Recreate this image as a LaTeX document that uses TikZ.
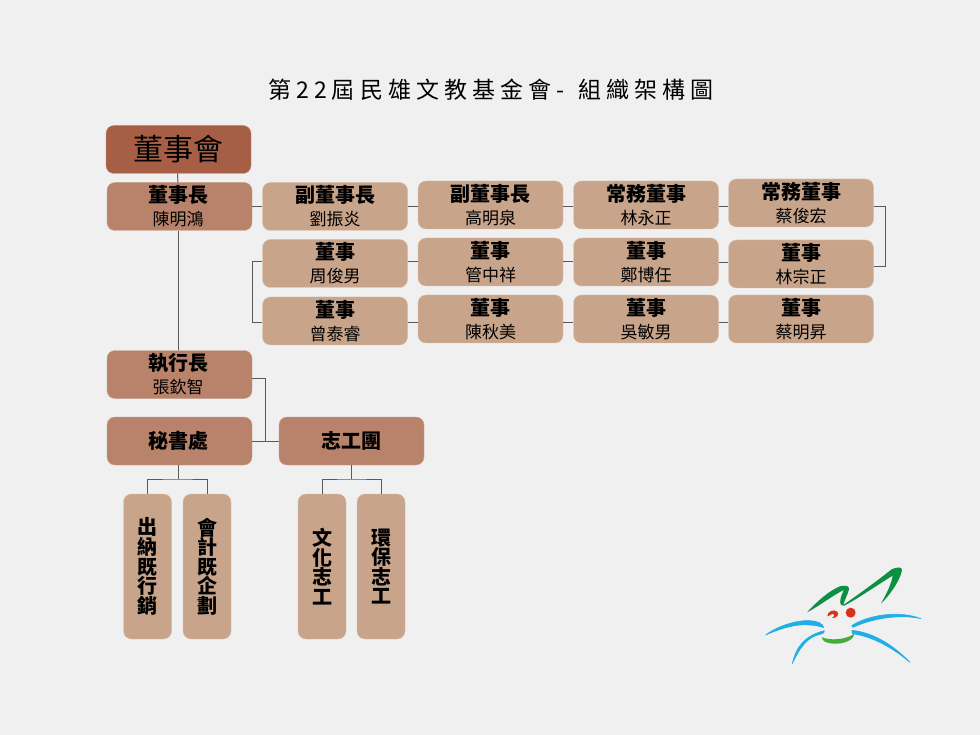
\documentclass[tikz,border=0pt]{standalone}
\usepackage{fontspec}
\setmainfont{Noto Sans CJK TC}
\usetikzlibrary{calc}
\definecolor{bgc}{HTML}{F0F0F0}
\definecolor{darkb}{HTML}{A65F45}
\definecolor{midb}{HTML}{B9826A}
\definecolor{lightb}{HTML}{C8A48B}
\definecolor{linec}{HTML}{5A5A5A}
\definecolor{lgreen}{HTML}{0B9044}
\definecolor{lgreenb}{HTML}{43AC3B}
\definecolor{lblue}{HTML}{1FAEE6}
\definecolor{lred}{HTML}{D8321F}
\newcommand{\rolename}[2]{\fontsize{20}{22.5}\selectfont{\bfseries #1}\\[5.5pt]{\fontsize{17}{22.5}\selectfont #2}}
\newcommand{\rolenameL}[2]{\fontsize{20}{22.5}\selectfont{\bfseries #1}\kern3pt\\[5.5pt]{\fontsize{17}{22.5}\selectfont #2}\kern3pt}
\tikzset{
  x=1pt,y=-1pt,
  box/.style={rounded corners=8pt,inner sep=0pt,text=black,align=center,minimum width=145pt,minimum height=48pt},
  topbox/.style={box,fill=darkb,draw=darkb!70!white,line width=.4pt},
  midbox/.style={box,fill=midb,draw=midb!75!white,line width=.4pt},
  lightbox/.style={box,fill=lightb,draw=lightb!70!white,line width=.4pt},
  tallbox/.style={lightbox,minimum width=48pt,minimum height=145pt,font=\fontsize{20}{19.6}\selectfont\bfseries},
  conn/.style={draw=linec,line width=1pt},
  heading/.style={font=\fontsize{23}{26}\selectfont\addfontfeatures{LetterSpace=22},inner sep=0pt},
  whisker/.style={fill=lblue,draw=lblue,line width=.6pt,line join=round},
}
\begin{document}
\begin{tikzpicture}
\useasboundingbox (0,0) rectangle (980,735);
\fill[bgc] (0,0) rectangle (980,735);
\node[heading] (title) at (491,90) {第22屆民雄文教基金會- \,組織架構圖};

\node[topbox] (board) at (178.5,149.5) {\fontsize{30}{32}\selectfont 董事會};
\node[midbox] (chair) at (179.5,206.5) {\rolenameL{董事長}{陳明鴻}};
\node[lightbox] (a1) at (335,206.5) {\rolename{副董事長}{劉振炎}};
\node[lightbox] (a2) at (490.5,205) {\rolename{副董事長}{高明泉}};
\node[lightbox] (a3) at (646,205) {\rolename{常務董事}{林永正}};
\node[lightbox] (a4) at (801,203) {\rolename{常務董事}{蔡俊宏}};
\node[lightbox] (b1) at (335,263.5) {\rolename{董事}{周俊男}};
\node[lightbox] (b2) at (490.5,262) {\rolename{董事}{管中祥}};
\node[lightbox] (b3) at (646,262) {\rolename{董事}{鄭博任}};
\node[lightbox] (b4) at (801,264) {\rolename{董事}{林宗正}};
\node[lightbox] (c1) at (335,321) {\rolename{董事}{曾泰睿}};
\node[lightbox] (c2) at (490.5,319) {\rolename{董事}{陳秋美}};
\node[lightbox] (c3) at (646,319) {\rolename{董事}{吳敏男}};
\node[lightbox] (c4) at (801,319) {\rolename{董事}{蔡明昇}};
\node[midbox] (ceo) at (179.5,374.5) {\rolenameL{執行長}{張欽智}};
\node[midbox] (sec) at (179.5,441) {\fontsize{20}{23}\selectfont\bfseries 秘書處\kern3pt};
\node[midbox] (vol) at (351.5,441) {\fontsize{20}{23}\selectfont\bfseries 志工團};
\node[tallbox] (t1) at (147.5,566.5) {出\\納\\既\\行\\銷};
\node[tallbox] (t2) at (207,566.5) {會\\計\\既\\企\\劃};
\node[tallbox] (t3) at (322,566.5) {文\\化\\志\\工};
\node[tallbox] (t4) at (381,566.5) {環\\保\\志\\工};

\path[conn] ([xshift=-1pt]board.south) -- ([xshift=-1.5pt]chair.north);
\path[conn] ([xshift=-1.5pt]chair.south) -- ([xshift=-1.5pt]ceo.north);
\path[conn] (chair.east) -- (a1.west);
\path[conn] (a1.east) -- (a1.east -| a2.west);
\path[conn] ([yshift=-2pt]a2.east) -- ([yshift=-2pt]a3.west);
\path[conn] ([yshift=-2pt]a3.east) -- ([yshift=-2pt]a3.east -| a4.west);
\path[conn] ([yshift=-4pt]a4.east) -- ++(12,0) |- ([yshift=-3pt]b4.east);
\path[conn] ([yshift=-1pt]b3.east) -- ([yshift=-1pt]b3.east -| b4.west);
\path[conn] (b2.east) -- (b3.west);
\path[conn] ([yshift=1.5pt]b1.east) -- ([yshift=1.5pt]b1.east -| b2.west);
\path[conn] ([yshift=1.5pt]b1.west) -- ++(-10,0) |- ([yshift=-2pt]c1.west);
\path[conn] ([yshift=-2pt]c1.east) -- ([yshift=-4pt]c2.west);
\path[conn] ([yshift=-4pt]c2.east) -- ([yshift=-4pt]c3.west);
\path[conn] ([yshift=-4pt]c3.east) -- ([yshift=-4pt]c4.west);
\path[conn] ([yshift=-3.5pt]ceo.east) -- ++(13,0) |- (sec.east);
\path[conn] (sec.east) -- (vol.west);
\coordinate (secj) at (178,479);
\coordinate (volj) at (351.5,479);
\path[conn] ([xshift=-1.5pt]sec.south) -- (secj);
\path[conn] (t1.north) |- (secj) -| (t2.north);
\path[conn] (vol.south) -- (volj);
\path[conn] (t3.north) |- (volj) -| (t4.north);

\begin{scope}[shift={(755,555)},x=0.3333pt,y=-0.3333pt]
\fill[lgreen] (156,172) .. controls (185,140) and (225,105) .. (255,94)
  .. controls (270,90) and (284,92) .. (282,103)
  .. controls (278,120) and (268,135) .. (265,150)
  .. controls (315,115) and (370,75) .. (410,43)
  .. controls (425,36) and (442,34) .. (441,46)
  .. controls (436,75) and (405,120) .. (378,146)
  .. controls (395,115) and (410,85) .. (413,62)
  .. controls (375,85) and (310,130) .. (268,152)
  .. controls (258,153) and (254,146) .. (256,135)
  .. controls (258,122) and (264,112) .. (266,105)
  .. controls (235,120) and (190,155) .. (156,172) -- cycle;
\fill[lred] (287,173) circle [radius=15];
\fill[lred] (217,184) .. controls (216,170) and (236,161) .. (247,170)
  .. controls (253,178) and (247,190) .. (231,189)
  .. controls (240,183) and (240,177) .. (233,176)
  .. controls (228,177) and (225,184) .. (217,184) -- cycle;
\path[whisker] (32,240) .. controls (70,212) and (125,195) .. (165,197)
  .. controls (185,198) and (205,205) .. (206,218)
  .. controls (180,208) and (135,206) .. (100,216)
  .. controls (75,222) and (50,232) .. (32,240) -- cycle;
\path[whisker] (112,326) .. controls (122,280) and (145,243) .. (208,227)
  .. controls (210,232) and (205,236) .. (195,238)
  .. controls (160,245) and (135,275) .. (112,326) -- cycle;
\path[whisker] (290,212) .. controls (340,180) and (430,165) .. (498,191)
  .. controls (440,178) and (360,187) .. (294,217) -- cycle;
\path[whisker] (291,226) .. controls (350,232) and (410,265) .. (465,322)
  .. controls (415,280) and (355,245) .. (292,236) -- cycle;
\fill[lgreenb] (201,247) .. controls (225,257) and (270,255) .. (297,237)
  .. controls (298,255) and (265,268) .. (235,266)
  .. controls (215,265) and (200,258) .. (201,247) -- cycle;
\end{scope}
\end{tikzpicture}
\end{document}
